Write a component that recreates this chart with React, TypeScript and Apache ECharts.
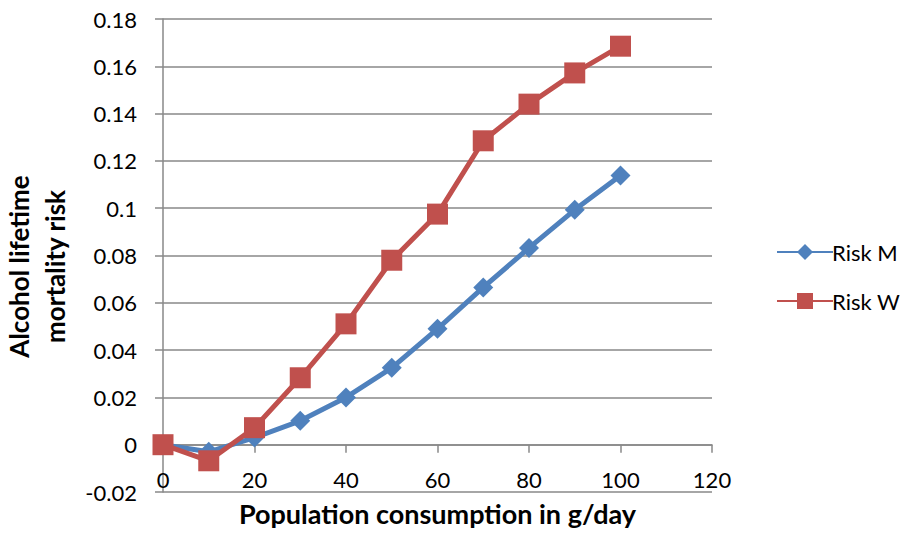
import React, { useEffect, useRef } from "react";
import * as echarts from "echarts";

const xValues = [0, 10, 20, 30, 40, 50, 60, 70, 80, 90, 100];
const riskM = [0, -0.003, 0.003, 0.0101, 0.02, 0.0325, 0.049, 0.0665, 0.0832, 0.0993, 0.1138];
const riskW = [0, -0.0068, 0.0072, 0.0283, 0.0511, 0.078, 0.0975, 0.1285, 0.144, 0.1572, 0.1685];
const seriesNames = ["Risk M", "Risk W"];

const FONT = "Lato, 'Open Sans', sans-serif";

export default function App() {
  const ref = useRef<HTMLDivElement>(null);
  useEffect(() => {
    const chart = echarts.init(ref.current!, null, { renderer: "svg" });
    const fmtY = (v: number) => {
      const r = Math.round(v * 100) / 100;
      return String(r);
    };
    chart.setOption({
      animation: false,
      textStyle: { fontFamily: FONT, color: "#000" },
      grid: { left: 163, right: 194, top: 19, bottom: 48, containLabel: false, outerBoundsMode: "none" },
      legend: {
        orient: "vertical",
        left: 771,
        top: 236,
        itemGap: 27,
        itemWidth: 56,
        itemHeight: 20,
        textStyle: { fontFamily: FONT, fontSize: 22, color: "#000", padding: [0, 0, 0, -6] },
        data: seriesNames,
      },
      xAxis: [
        {
          type: "value",
          min: 0,
          max: 120,
          interval: 20,
          axisLine: { onZero: true, lineStyle: { color: "#888", width: 1.5 } },
          axisTick: { show: true, inside: false, length: 8, lineStyle: { color: "#888", width: 1.5 } },
          axisLabel: { show: false },
          splitLine: { show: false },
        },
        {
          type: "value",
          position: "bottom",
          min: 0,
          max: 120,
          interval: 20,
          axisLine: { show: false, onZero: false },
          axisTick: { show: false },
          axisLabel: { inside: true, margin: 2, fontSize: 22, fontFamily: FONT, color: "#000" },
          splitLine: { show: false },
          name: "Population consumption in g/day",
          nameLocation: "middle",
          nameGap: 8,
          nameTextStyle: { fontFamily: FONT, fontSize: 27, fontWeight: "bold", color: "#000" },
        },
      ],
      yAxis: {
        type: "value",
        min: -0.02,
        max: 0.18,
        interval: 0.02,
        axisLine: { show: true, onZero: false, lineStyle: { color: "#888", width: 1.5 } },
        axisTick: { show: true, length: 8, lineStyle: { color: "#888", width: 1.5 } },
        axisLabel: { margin: 26, fontSize: 22, fontFamily: FONT, color: "#000", formatter: fmtY },
        splitLine: { show: true, lineStyle: { color: "#888", width: 1.5 } },
        name: "Alcohol lifetime\nmortality risk",
        nameLocation: "middle",
        nameGap: 90,
        nameTextStyle: {
          fontFamily: FONT,
          fontSize: 26,
          fontWeight: "bold",
          color: "#000",
          lineHeight: 36,
          padding: [0, 22, 0, 0],
        },
      },
      series: [
        {
          name: seriesNames[0],
          type: "line",
          xAxisIndex: 0,
          data: xValues.map((x, i) => [x, riskM[i]]),
          symbol: "diamond",
          symbolSize: 20,
          itemStyle: { color: "#4F81BD" },
          lineStyle: { color: "#4F81BD", width: 5 },
          z: 3,
        },
        {
          name: seriesNames[1],
          type: "line",
          xAxisIndex: 0,
          data: xValues.map((x, i) => [x, riskW[i]]),
          symbol: "rect",
          symbolSize: 21,
          itemStyle: { color: "#C0504D" },
          lineStyle: { color: "#C0504D", width: 5 },
          z: 4,
        },
      ],
    });
    return () => chart.dispose();
  }, []);
  return <div ref={ref} style={{ width: 906, height: 540, position: "absolute", left: 0, top: 0 }} />;
}
